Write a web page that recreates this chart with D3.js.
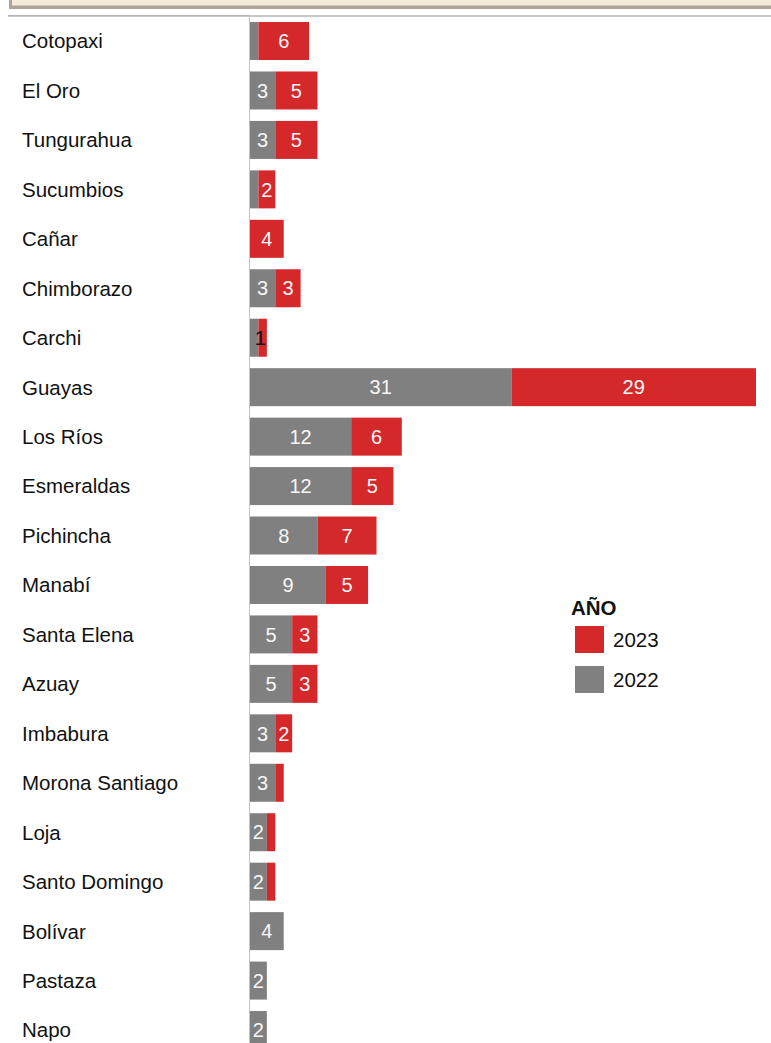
<!DOCTYPE html>
<html>
<head>
<meta charset="utf-8">
<script src="https://cdn.jsdelivr.net/npm/d3@7/dist/d3.min.js"></script>
<style>
  html, body { margin: 0; padding: 0; background: #fff; }
  svg { display: block; font-family: Arial, "Liberation Sans", sans-serif; }
</style>
</head>
<body>
<svg id="chart" width="771" height="1043"></svg>
<script>
// Provinces, top to bottom
const provincias = ["Cotopaxi", "El Oro", "Tungurahua", "Sucumbios", "Cañar", "Chimborazo",
  "Carchi", "Guayas", "Los Ríos", "Esmeraldas", "Pichincha", "Manabí", "Santa Elena",
  "Azuay", "Imbabura", "Morona Santiago", "Loja", "Santo Domingo", "Bolívar", "Pastaza", "Napo"];

// Cases per year
const valores2022 = [1, 3, 3, 1, 0, 3, 1, 31, 12, 12, 8, 9, 5, 5, 3, 3, 2, 2, 4, 2, 2];
const valores2023 = [6, 5, 5, 2, 4, 3, 1, 29, 6, 5, 7, 5, 3, 3, 2, 1, 1, 1, 0, 0, 0];

const anios = ["2022", "2023"];
const colores = { "2022": "#808080", "2023": "#d5282a" };

const svg = d3.select("#chart");
const W = 771, H = 1043;

// Header band
svg.append("rect").attr("x", 9).attr("y", -4).attr("width", W).attr("height", 13).attr("fill", "#aea596");
svg.append("rect").attr("x", 12).attr("y", -4).attr("width", W).attr("height", 9.5).attr("fill", "#f4ebd9");

const rows = provincias.map((p, i) => ({ prov: p, "2022": valores2022[i], "2023": valores2023[i] }));
const stacked = d3.stack().keys(anios)(rows);

const x = d3.scaleLinear()
  .domain([0, d3.max(rows, d => d["2022"] + d["2023"])])
  .range([250, 756]);

const step = 49.45;
const pad = (step - 38) / step;
const y = d3.scaleBand()
  .domain(provincias)
  .range([16.3, 16.3 + provincias.length * step])
  .paddingInner(pad)
  .paddingOuter(pad / 2);

// Bars
const g = svg.append("g");
stacked.forEach(layer => {
  const key = layer.key;
  g.selectAll(null)
    .data(layer)
    .join("rect")
    .attr("x", d => x(d[0]))
    .attr("y", d => y(d.data.prov))
    .attr("width", d => x(d[1]) - x(d[0]))
    .attr("height", y.bandwidth())
    .attr("fill", colores[key]);
});

// Segment labels
stacked.forEach(layer => {
  const key = layer.key;
  layer.forEach(d => {
    const v = d[1] - d[0];
    if (v <= 0) return;
    const cy = y(d.data.prov) + y.bandwidth() / 2;
    if (v >= 2) {
      g.append("text")
        .attr("x", (x(d[0]) + x(d[1])) / 2)
        .attr("y", cy)
        .attr("dy", "0.36em")
        .attr("text-anchor", "middle")
        .attr("fill", "#f7f7f7")
        .attr("font-size", 20)
        .text(v);
    } else if (key === "2023" && d.data["2022"] === 1) {
      // tiny pair: label drawn dark over both segments
      g.append("text")
        .attr("x", x(d[0]) + 2)
        .attr("y", cy)
        .attr("dy", "0.36em")
        .attr("text-anchor", "middle")
        .attr("fill", "#111")
        .attr("font-size", 20)
        .text(v);
    }
  });
});

// Row labels
svg.append("g").selectAll("text")
  .data(provincias)
  .join("text")
  .attr("x", 22)
  .attr("y", d => y(d) + y.bandwidth() / 2)
  .attr("dy", "0.36em")
  .attr("fill", "#111")
  .attr("font-size", 20.5)
  .text(d => d);

// Header rule and axis line
svg.append("line").attr("x1", 8).attr("x2", 250).attr("y1", 15.8).attr("y2", 15.8)
  .attr("stroke", "#b4b4b4").attr("stroke-width", 1.8);
svg.append("line").attr("x1", 250).attr("x2", W).attr("y1", 16).attr("y2", 16)
  .attr("stroke", "#b4b4b4").attr("stroke-width", 1.4);
svg.append("line").attr("x1", 249.5).attr("x2", 249.5).attr("y1", 15).attr("y2", H)
  .attr("stroke", "#c4c4c4").attr("stroke-width", 1);

// Legend
const leg = svg.append("g");
leg.append("text").attr("x", 571).attr("y", 615).attr("font-size", 20.5)
  .attr("font-weight", "bold").attr("fill", "#111").text("AÑO");
const legItems = ["2023", "2022"];
leg.selectAll("rect.sw")
  .data(legItems)
  .join("rect")
  .attr("class", "sw")
  .attr("x", 575)
  .attr("y", (d, i) => 626 + i * 40)
  .attr("width", 29)
  .attr("height", 27)
  .attr("fill", d => colores[d]);
leg.selectAll("text.lt")
  .data(legItems)
  .join("text")
  .attr("class", "lt")
  .attr("x", 613)
  .attr("y", (d, i) => 640 + i * 40)
  .attr("dy", "0.36em")
  .attr("font-size", 20.5)
  .attr("fill", "#111")
  .text(d => d);
</script>
</body>
</html>
